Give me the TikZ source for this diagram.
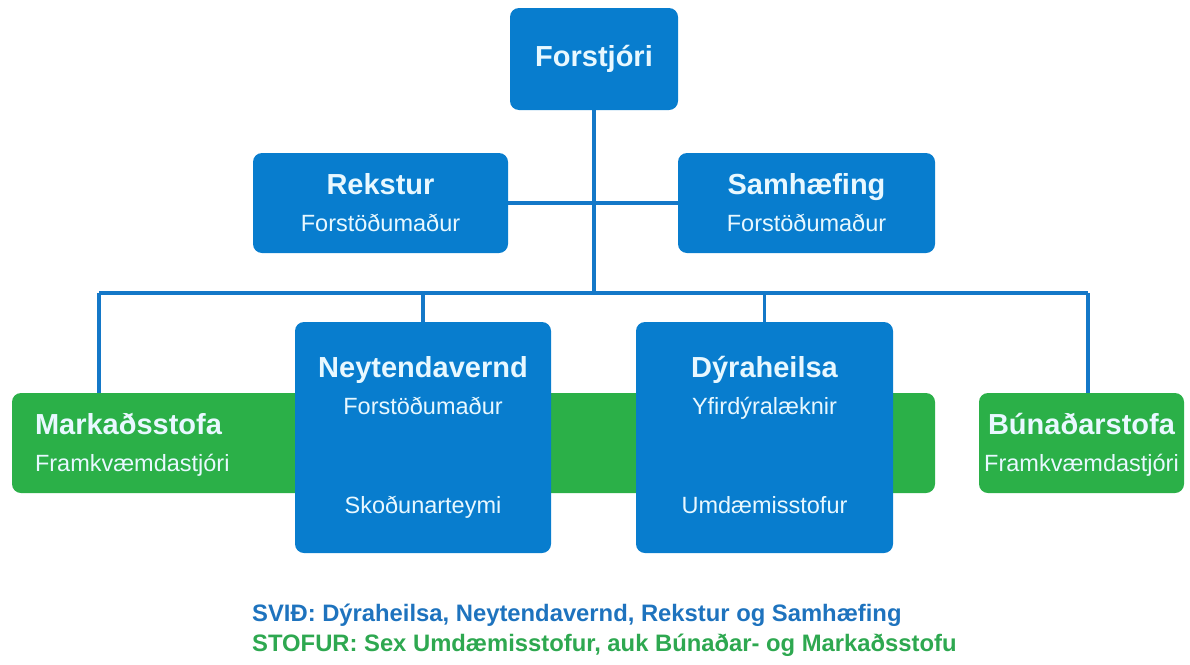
\documentclass[tikz,border=0pt]{standalone}
\usepackage{fontspec}
\setmainfont{Liberation Sans}
\definecolor{mastblue}{RGB}{8,125,206}
\definecolor{mastgreen}{RGB}{43,176,72}
\definecolor{mastline}{RGB}{20,120,200}
\definecolor{boxtext}{RGB}{232,248,255}
\definecolor{notegreen}{RGB}{46,168,80}
\definecolor{noteblue}{RGB}{30,115,190}
\usetikzlibrary{positioning,calc}

\begin{document}
\begin{tikzpicture}[x=1pt, y=-1pt,
    bluebox/.style={rectangle, rounded corners=9pt, fill=mastblue, inner sep=0pt},
    greenbox/.style={rectangle, rounded corners=9pt, fill=mastgreen, inner sep=0pt},
    headtxt/.style={text=boxtext, inner sep=0pt, anchor=base,
                    font=\fontsize{29}{31}\selectfont\bfseries},
    subtxt/.style={text=boxtext, inner sep=0pt, anchor=base,
                   font=\fontsize{23.5}{25}\selectfont},
    notetxt/.style={inner sep=0pt, anchor=base west,
                    font=\fontsize{23.8}{26}\selectfont\bfseries},
    conn/.style={draw=mastline, line width=3.5pt}
  ]
    \useasboundingbox (0,0) rectangle (1190,664);

    % Stofur band (behind the blue boxes)
    \node[greenbox, minimum width=923pt, minimum height=100pt] (mark) at (473.5,443) {};
    \node[greenbox, minimum width=205pt, minimum height=100pt] (buna) at (1081.5,443) {};

    % Bar coordinates
    \coordinate (barL) at (99,293);
    \coordinate (barR) at (1088,293);

    % Boxes
    \node[bluebox, minimum width=168pt, minimum height=102pt] (forst) at (594,59) {};
    \node[bluebox, minimum width=255pt, minimum height=100pt] (rek)   at (380.5,203) {};
    \node[bluebox, minimum width=257pt, minimum height=100pt] (samh)  at (806.5,203) {};

    % Connectors
    \draw[conn] (forst.south) -- (forst.south |- barL);
    \draw[conn] (rek.east) -- (rek.east -| forst.south);
    \draw[conn] (samh.west) -- (samh.west -| forst.south);
    \draw[conn] (barL) -- (barR);
    \draw[conn] (barL) -- (barL |- mark.north);
    \draw[conn] (barR) -- (barR |- buna.north);

    \node[bluebox, minimum width=256pt, minimum height=231pt] (neyt) at (423,437.5) {};
    \node[bluebox, minimum width=257pt, minimum height=231pt] (dyra) at (764.5,437.5) {};
    \draw[conn] (neyt.north |- barL) -- (neyt.north);
    \draw[conn] (dyra.north |- barL) -- (dyra.north);

    % Texts
    \node[headtxt] (forstT) at ($(forst.north)+(0,59)$) {Forstjóri};
    \node[headtxt] (rekT)   at ($(rek.north)+(0,42)$)   {Rekstur};
    \node[subtxt]  (rekS)   at ($(rek.north)+(0,79)$)   {Forstöðumaður};
    \node[headtxt] (samhT)  at ($(samh.north)+(0,42)$)  {Samhæfing};
    \node[subtxt]  (samhS)  at ($(samh.north)+(0,79)$)  {Forstöðumaður};

    \node[headtxt] (neytT) at ($(neyt.north)+(0,56)$)  {Neytendavernd};
    \node[subtxt]  (neytS) at ($(neyt.north)+(0,93)$)  {Forstöðumaður};
    \node[subtxt]  (neytB) at ($(neyt.north)+(0,192)$) {Skoðunarteymi};
    \node[headtxt] (dyraT) at ($(dyra.north)+(0,56)$)  {Dýraheilsa};
    \node[subtxt]  (dyraS) at ($(dyra.north)+(0,93)$)  {Yfirdýralæknir};
    \node[subtxt]  (dyraB) at ($(dyra.north)+(0,192)$) {Umdæmisstofur};

    \node[headtxt, anchor=base west] (markT) at ($(mark.north west)+(23,42)$) {Markaðsstofa};
    \node[subtxt, anchor=base west]  (markS) at ($(mark.north west)+(23,79)$) {Framkvæmdastjóri};
    \node[headtxt] (bunaT) at ($(buna.north)+(0,42)$) {Búnaðarstofa};
    \node[subtxt]  (bunaS) at ($(buna.north)+(0,79)$) {Framkvæmdastjóri};

    % Notes
    \node[notetxt, text=noteblue]  (svid)  at (252,621) {SVIÐ: Dýraheilsa, Neytendavernd, Rekstur og Samhæfing};
    \node[notetxt, text=notegreen] (stofa) at (252,651) {STOFUR: Sex Umdæmisstofur, auk Búnaðar- og Markaðsstofu};
\end{tikzpicture}
\end{document}
